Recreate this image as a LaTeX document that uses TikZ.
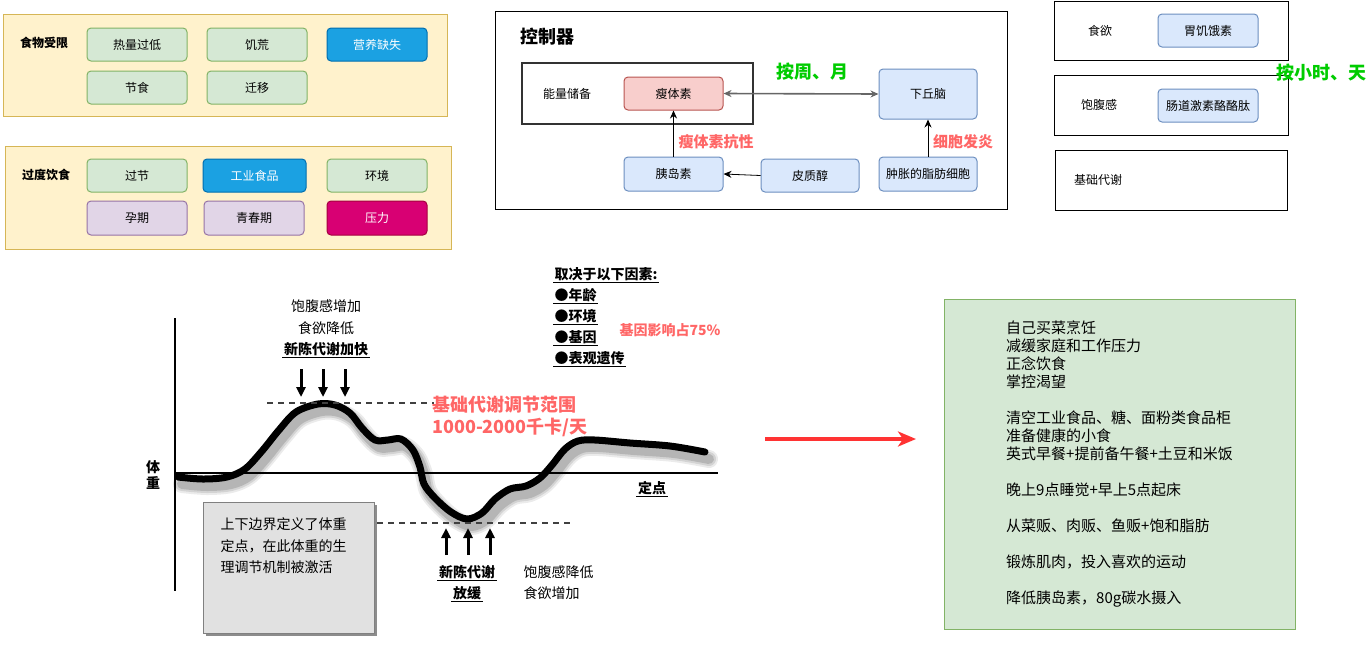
\documentclass[tikz,border=0pt]{standalone}
\usepackage{fontspec}
\setmainfont{Noto Sans CJK SC}
\usetikzlibrary{arrows.meta}
\definecolor{pY}{HTML}{FFF2CC}\definecolor{pYD}{HTML}{D6B656}
\definecolor{gF}{HTML}{D5E8D4}\definecolor{gD}{HTML}{82B366}
\definecolor{bF}{HTML}{1BA1E2}\definecolor{bD}{HTML}{006EAF}
\definecolor{pF}{HTML}{E1D5E7}\definecolor{pD}{HTML}{9673A6}
\definecolor{mF}{HTML}{D80073}\definecolor{mD}{HTML}{A50040}
\definecolor{rF}{HTML}{F8CECC}\definecolor{rD}{HTML}{B85450}
\definecolor{lbF}{HTML}{DAE8FC}\definecolor{lbD}{HTML}{6C8EBF}
\definecolor{grnT}{HTML}{00CC00}
\definecolor{redT}{HTML}{FF6666}
\definecolor{redA}{HTML}{FF3333}
\definecolor{boxG}{HTML}{E1E1E1}
\tikzset{
  box/.style={rounded corners=4pt, line width=1pt, minimum width=100pt, minimum height=33pt, inner sep=1pt, font=\fontsize{12}{14}\selectfont},
  gbox/.style={box, fill=gF, draw=gD},
  bbox/.style={box, fill=bF, draw=bD, text=white},
  pbox/.style={box, fill=pF, draw=pD},
  mbox/.style={box, fill=mF, draw=mD, text=white},
  rbox/.style={box, fill=rF, draw=rD},
  lbox/.style={box, fill=lbF, draw=lbD},
  panel/.style={fill=pY, draw=pYD, line width=1pt, inner sep=0pt},
  frame/.style={draw=black, line width=0.8pt, inner sep=0pt},
  lbl/.style={inner sep=1pt, font=\fontsize{12}{14}\selectfont},
  blbl/.style={inner sep=1pt, font=\bfseries\fontsize{12}{14}\selectfont},
  gtitle/.style={inner sep=1pt, text=grnT, font=\bfseries\fontsize{18}{20}\selectfont},
  rtitle/.style={inner sep=1pt, text=redT, font=\bfseries\fontsize{15}{17}\selectfont},
  t14/.style={inner sep=1.5pt, font=\fontsize{14}{17}\selectfont},
  t14b/.style={inner sep=1.5pt, font=\bfseries\fontsize{14}{17}\selectfont},
  conn/.style={-{Stealth[length=8pt,width=7pt]}, line width=0.8pt, draw=black},
  bigarr/.style={-{Triangle[length=10pt,width=9pt]}, line width=3pt, draw=black, fill=black},
  ulin/.style={line width=1.2pt, draw=black},
  dashl/.style={draw=black!75, line width=1.4pt, dash pattern=on 6pt off 5pt},
}
\begin{document}
\begin{tikzpicture}[x=1pt,y=-1pt]
\useasboundingbox (0,0) rectangle (1367,649);

% ---------- panel 1 ----------
\node[panel, minimum width=444pt, minimum height=102pt] (p1) at (225,65) {};
\node[blbl] (l1) at (44,43) {食物受限};
\node[gbox] (b11) at (137,44.5) {热量过低};
\node[gbox] (b12) at (257,44.5) {饥荒};
\node[bbox] (b13) at (377,44.5) {营养缺失};
\node[gbox] (b21) at (137,87.5) {节食};
\node[gbox] (b22) at (257,87.5) {迁移};

% ---------- panel 2 ----------
\node[panel, minimum width=446pt, minimum height=103pt] (p2) at (228,197.5) {};
\node[blbl] (l2) at (46,175) {过度饮食};
\node[gbox] (c11) at (137,175.5) {过节};
\node[bbox, minimum width=103pt] (c12) at (254.5,175.5) {工业食品};
\node[gbox] (c13) at (377,175.5) {环境};
\node[pbox, minimum height=34pt] (c21) at (137,218) {孕期};
\node[pbox, minimum height=34pt] (c22) at (254,218) {青春期};
\node[mbox, minimum height=34pt] (c23) at (377,218) {压力};

% ---------- controller ----------
\node[frame, minimum width=512pt, minimum height=198pt] (ctl) at (751,110) {};
\node[inner sep=1pt, font=\bfseries\fontsize{18}{20}\selectfont] (ctlt) at (547,37) {控制器};
\node[draw=black!80, line width=1.5pt, minimum width=231pt, minimum height=61pt, inner sep=0pt] (eng) at (637.5,93.5) {};
\node[lbl] (engl) at (567,94) {能量储备};
\node[rbox, minimum width=99pt] (lep) at (673.5,93.5) {瘦体素};
\node[lbox, minimum width=98pt, minimum height=50pt] (hyp) at (928,94) {下丘脑};
\node[lbox, minimum width=99pt, minimum height=34pt] (ins) at (673.5,174) {胰岛素};
\node[lbox, minimum width=98pt] (cor) at (810,175.5) {皮质醇};
\node[lbox, minimum width=98pt, minimum height=34pt] (fat) at (928,174) {肿胀的脂肪细胞};
\draw[{Stealth[length=8pt,width=7pt]}-{Stealth[length=8pt,width=7pt]}, line width=1.6pt, draw=black!60] (lep.east) -- (hyp.west);
\draw[conn] (ins.north) -- (lep.south);
\draw[conn] (cor.west) -- (ins.east);
\draw[conn] (fat.north) -- (hyp.south);
\node[gtitle] (wk) at (812,72) {按周、月};
\node[rtitle] (lr) at (716,142) {瘦体素抗性};
\node[rtitle] (inf) at (963,142) {细胞发炎};

% ---------- right boxes ----------
\node[frame, minimum width=234pt, minimum height=59pt] (r1) at (1171,30.5) {};
\node[lbl] (r1l) at (1100,31) {食欲};
\node[lbox] (ghr) at (1208,30.5) {胃饥饿素};
\node[frame, minimum width=234pt, minimum height=60pt] (r2) at (1171,105) {};
\node[lbl] (r2l) at (1099,105) {饱腹感};
\node[lbox] (pyy) at (1208,105.5) {肠道激素酪酪肽};
\node[frame, minimum width=232pt, minimum height=60pt] (r3) at (1171,180) {};
\node[lbl, anchor=west] (r3l) at (1073,180) {基础代谢};
\node[gtitle] (hr) at (1321,73) {按小时、天};

% ---------- graph ----------
\coordinate (vt) at (175,318);
\coordinate (vb) at (175,591);
\coordinate (hl) at (175,473);
\coordinate (hr2) at (718,473);
\draw[line width=2.2pt] (vt) -- (vb);
\draw[line width=2pt] (hl) -- (hr2);

\def\curvepts{(178,477) (203,479) (227,477) (245,469) (262,451) (279,430) (296,412) (318,404) (335,405) (350,413) (362,428) (375,440) (388,440) (401,439) (413,450) (420,467) (424,484) (435,498) (451,512) (467,519) (482,513) (495,499) (510,489) (526,486) (540,478) (552,465) (565,449) (578,441) (595,440) (630,443) (670,446) (705,452)}
% curve shadow
\foreach \w/\o in {18/0.08,14/0.10,10/0.14}{
\draw[line width=\w pt, black, opacity=\o, line cap=round, line join=round, shift={(4,7)}]
  plot[smooth, tension=0.55] coordinates {\curvepts};
}
\draw[line width=7pt, black, line cap=round, line join=round]
  plot[smooth, tension=0.55] coordinates {\curvepts};

\coordinate (du1) at (267,403); \coordinate (du2) at (434,403);
\coordinate (dl1) at (377,523); \coordinate (dl2) at (573,523);
\draw[dashl] (du1) -- (du2);
\draw[dashl] (dl1) -- (dl2);

\coordinate (as1) at (301,369); \coordinate (ae1) at (301,397);
\coordinate (as2) at (323,369); \coordinate (ae2) at (323,397);
\coordinate (as3) at (345,369); \coordinate (ae3) at (345,397);
\coordinate (us1) at (446,555); \coordinate (ue1) at (446,528);
\coordinate (us2) at (468,555); \coordinate (ue2) at (468,528);
\coordinate (us3) at (490,555); \coordinate (ue3) at (490,528);
\draw[bigarr] (as1) -- (ae1);
\draw[bigarr] (as2) -- (ae2);
\draw[bigarr] (as3) -- (ae3);
\draw[bigarr] (us1) -- (ue1);
\draw[bigarr] (us2) -- (ue2);
\draw[bigarr] (us3) -- (ue3);

\node[t14] (g1) at (326,306) {饱腹感增加};
\node[t14] (g2) at (326,328) {食欲降低};
\node[t14b] (g3) at (326,349) {新陈代谢加快};
\node[t14b] (g4) at (467,572) {新陈代谢};
\node[t14b] (g5) at (467,593) {放缓};
\node[t14, anchor=west] (g6) at (522,572) {饱腹感降低};
\node[t14, anchor=west] (g7) at (522,593) {食欲增加};
\node[t14b] (dd) at (652,488) {定点};
\node[t14b, align=center, font=\bfseries\fontsize{14}{16}\selectfont] (tz) at (153,475) {体\\重};
\foreach \n in {g3,g4,g5,dd}{ \draw[ulin] (\n.south west) -- (\n.south east); }

\node[inner sep=0pt, anchor=west, text=redT, font=\bfseries\fontsize{18}{20}\selectfont] (rg1) at (432,405) {基础代谢调节范围};
\node[inner sep=0pt, anchor=west, text=redT, font=\bfseries\fontsize{18}{20}\selectfont] (rg2) at (432,427) {1000-2000千卡/天};

% gray note box
\fill[black!45] (206,505) rectangle (377,636);
\node[draw=black!50, fill=boxG, line width=1pt, minimum width=171pt, minimum height=131pt, inner sep=0pt] (nb) at (288.5,567.5) {};
\node[t14, anchor=west] (n1) at (219,524) {上下边界定义了体重};
\node[t14, anchor=west] (n2) at (219,546) {定点，在此体重的生};
\node[t14, anchor=west] (n3) at (219,567) {理调节机制被激活};

% factors
\node[t14b, anchor=west] (f0) at (553,274) {取决于以下因素:};
\node[t14b, anchor=west] (f1) at (553,295) {●年龄};
\node[t14b, anchor=west] (f2) at (553,316) {●环境};
\node[t14b, anchor=west] (f3) at (553,337) {●基因};
\node[t14b, anchor=west] (f4) at (553,358) {●表观遗传};
\foreach \n in {f0,f1,f2,f3,f4}{ \draw[ulin] (\n.south west) -- (\n.south east); }
\node[inner sep=0pt, text=redT, font=\bfseries\fontsize{14}{16}\selectfont] (gene) at (670,330) {基因影响占75\%};

% red arrow
\coordinate (ra1) at (765,439); \coordinate (ra2) at (916,439);
\draw[-{Stealth[length=18pt,width=15pt,inset=5pt]}, line width=3.5pt, draw=redA] (ra1) -- (ra2);

% green box
\node[fill=gF, draw=gD, line width=1pt, minimum width=351pt, minimum height=330pt, inner sep=0pt] (gb) at (1119.5,464) {};
\node[anchor=north west, inner sep=0pt, align=left, font=\fontsize{15}{18}\selectfont] (gt) at (1006,321) {自己买菜烹饪\\减缓家庭和工作压力\\正念饮食\\掌控渴望\\[18pt]清空工业食品、糖、面粉类食品柜\\准备健康的小食\\英式早餐+提前备午餐+土豆和米饭\\[18pt]晚上9点睡觉+早上5点起床\\[18pt]从菜贩、肉贩、鱼贩+饱和脂肪\\[18pt]锻炼肌肉，投入喜欢的运动\\[18pt]降低胰岛素，80g碳水摄入};
\end{tikzpicture}
\end{document}
